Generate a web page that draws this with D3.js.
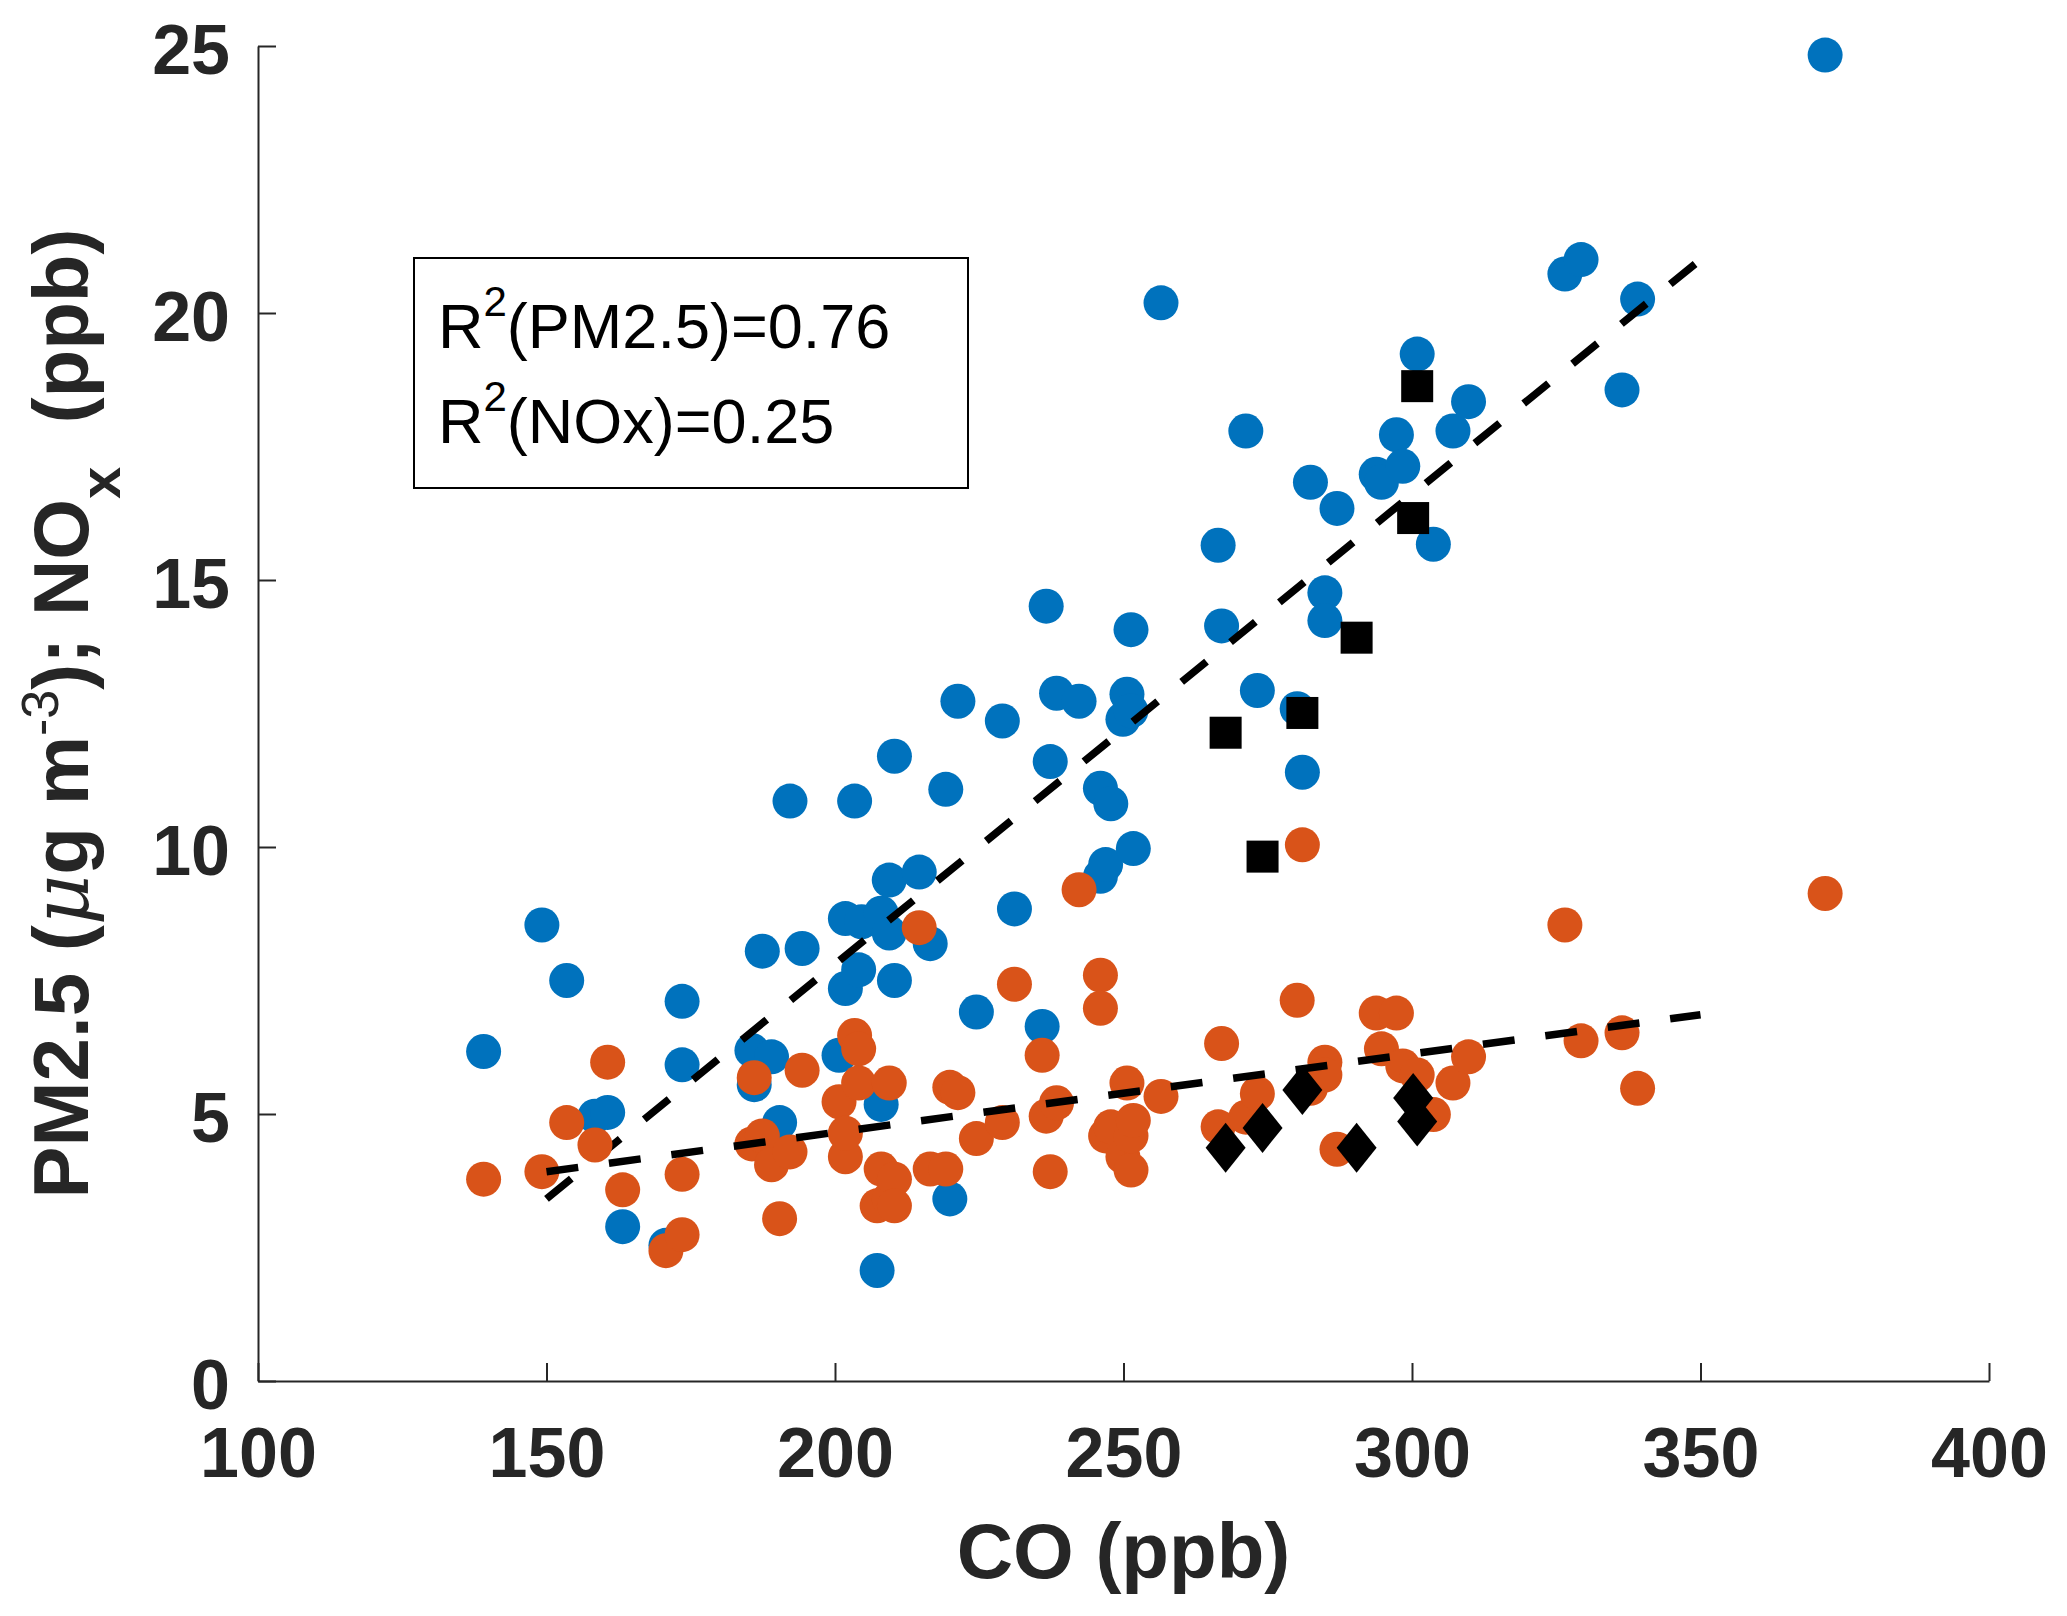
<!DOCTYPE html>
<html>
<head>
<meta charset="utf-8">
<script src="https://cdn.jsdelivr.net/npm/d3@7"></script>
<style>
  body { margin: 0; background: #fff; }
  svg text { white-space: pre; }
</style>
</head>
<body>
<div id="chart"></div>
<script>
// PM2.5 samples (blue) : CO (ppb) and PM2.5 (ug m-3)
const coPM = [139.1, 149.2, 153.5, 158.4, 160.6, 163.2, 170.7, 173.5, 173.5, 185.6,
  186.0, 187.4, 189.0, 190.4, 192.2, 194.3, 200.7, 201.8, 201.8, 203.4,
  204.1, 204.6, 208.0, 207.3, 208.0, 209.4, 209.4, 210.3, 210.3, 214.6,
  216.5, 219.2, 219.9, 221.3, 224.5, 229.0, 231.1, 235.9, 236.6, 237.3,
  238.4, 242.3, 246.0, 246.0, 246.9, 247.8, 249.9, 250.6, 251.3, 251.3,
  251.7, 256.5, 266.4, 267.0, 271.2, 273.2, 280.1, 281.0, 282.4, 284.9,
  284.9, 287.0, 293.8, 294.7, 297.3, 298.4, 300.9, 303.7, 307.1, 309.8,
  326.5, 329.3, 336.4, 339.1, 371.6];
const pm25 = [6.17, 8.54, 7.50, 4.96, 5.03, 2.89, 2.54, 7.11, 5.92, 6.19,
  5.55, 8.05, 6.07, 4.84, 10.86, 8.10, 6.10, 7.35, 8.66, 10.86,
  7.70, 8.60, 8.76, 2.07, 5.18, 9.38, 8.39, 7.50, 11.70, 9.53,
  8.19, 11.08, 3.41, 12.73, 6.91, 12.36, 8.84, 6.64, 14.51, 11.60,
  12.88, 12.73, 11.10, 9.45, 9.67, 10.81, 12.39, 12.86, 14.07, 12.55,
  9.97, 20.19, 15.65, 14.14, 17.79, 12.93, 12.59, 11.40, 16.83, 14.76,
  14.24, 16.34, 16.98, 16.83, 17.72, 17.13, 19.23, 15.67, 17.79, 18.34,
  20.73, 21.00, 18.56, 20.26, 24.83];

// NOx samples (orange) : CO (ppb) and NOx (ppb)
const coNOx = [139.1, 149.2, 153.5, 158.4, 160.6, 163.2, 170.7, 173.5, 173.5, 185.6,
  186.0, 187.4, 189.0, 190.4, 192.2, 194.3, 200.7, 201.8, 201.8, 203.4,
  204.1, 204.1, 208.0, 207.3, 209.4, 209.4, 210.3, 210.3, 214.6, 216.5,
  219.2, 219.9, 221.3, 224.5, 229.0, 231.1, 235.9, 236.6, 237.3, 238.4,
  242.3, 246.0, 246.0, 246.9, 247.8, 249.9, 250.6, 251.3, 251.3, 251.7,
  256.5, 266.4, 267.0, 271.2, 273.2, 280.1, 281.0, 282.4, 284.9, 284.9,
  287.0, 293.8, 294.7, 297.3, 298.4, 300.9, 303.7, 307.1, 309.8, 326.5,
  329.3, 336.4, 339.1, 371.6];
const nox = [3.78, 3.92, 4.84, 4.42, 5.97, 3.58, 2.44, 2.74, 3.87, 4.44,
  5.68, 4.59, 4.05, 3.04, 4.29, 5.82, 5.23, 4.20, 4.64, 6.47,
  6.22, 5.58, 3.97, 3.28, 5.58, 3.41, 3.78, 3.28, 8.49, 3.97,
  3.97, 5.50, 5.40, 4.54, 4.84, 7.43, 6.10, 4.96, 3.92, 5.21,
  9.20, 7.60, 6.98, 4.59, 4.76, 4.20, 5.58, 3.95, 4.59, 4.88,
  5.33, 4.76, 6.32, 4.94, 5.38, 7.13, 10.04, 5.48, 5.97, 5.73,
  4.34, 6.89, 6.22, 6.89, 5.90, 5.73, 4.99, 5.58, 6.07, 8.54,
  6.37, 6.52, 5.48, 9.13];

// black markers: squares = PM2.5, diamonds = NOx
const coBlack = [267.7, 274.1, 281.0, 290.4, 300.2, 300.9];
const pmBlack = [12.14, 9.82, 12.51, 13.92, 16.16, 18.63];
const noxBlack = [4.37, 4.74, 5.45, 4.37, 5.30, 4.86];

// regression line end points
const fitCO = [150, 350];
const pmFit = [3.41, 21.0];
const noxFit = [3.92, 6.86];

const xTicks = [100, 150, 200, 250, 300, 350, 400];
const yTicks = [0, 5, 10, 15, 20, 25];
const r2Labels = [["(PM2.5)=0.76"], ["(NOx)=0.25"]];

const W = 2067, H = 1616;
const blue = "#0072BD", orange = "#D95319", ink = "#262626";
const fontMain = "'Liberation Sans', Arial, Helvetica, sans-serif";

const svg = d3.select("#chart").append("svg")
  .attr("width", W).attr("height", H);

const x = d3.scaleLinear().domain([100, 400]).range([258, 1989]);
const y = d3.scaleLinear().domain([0, 25]).range([1381, 46]);

//AXES
const xAxis = d3.axisBottom(x).tickValues(xTicks).tickSizeInner(-18).tickSizeOuter(0).tickPadding(46);
const yAxis = d3.axisLeft(y).tickValues(yTicks).tickSizeInner(-18).tickSizeOuter(0).tickPadding(28);

const gx = svg.append("g").attr("transform", `translate(0,${y(0)})`).call(xAxis);
const gy = svg.append("g").attr("transform", `translate(${x(100)},0)`).call(yAxis);

[gx, gy].forEach(g => {
  g.select(".domain").attr("stroke", ink).attr("stroke-width", 2);
  g.selectAll(".tick line").attr("stroke", ink).attr("stroke-width", 2);
  g.selectAll(".tick text")
    .attr("fill", ink)
    .attr("font-family", fontMain)
    .attr("font-weight", "bold")
    .attr("font-size", 70);
});
gy.selectAll(".tick text").attr("dy", "0.39em");

//POINTS
const plot = svg.append("g");

plot.append("g").selectAll("circle")
  .data(d3.zip(coPM, pm25))
  .enter().append("circle")
  .attr("cx", d => x(d[0]))
  .attr("cy", d => y(d[1]))
  .attr("r", 17.5)
  .attr("fill", blue);

const line = d3.line().x(d => x(d[0])).y(d => y(d[1]));

plot.append("path")
  .attr("d", line(d3.zip(fitCO, pmFit)))
  .attr("fill", "none").attr("stroke", "#000")
  .attr("stroke-width", 7.5).attr("stroke-dasharray", "32,31");

plot.append("g").selectAll("circle")
  .data(d3.zip(coNOx, nox))
  .enter().append("circle")
  .attr("cx", d => x(d[0]))
  .attr("cy", d => y(d[1]))
  .attr("r", 17.5)
  .attr("fill", orange);

plot.append("path")
  .attr("d", line(d3.zip(fitCO, noxFit)))
  .attr("fill", "none").attr("stroke", "#000")
  .attr("stroke-width", 7.5).attr("stroke-dasharray", "32,31");

plot.append("g").selectAll("rect")
  .data(d3.zip(coBlack, pmBlack))
  .enter().append("rect")
  .attr("x", d => x(d[0]) - 16)
  .attr("y", d => y(d[1]) - 16)
  .attr("width", 32).attr("height", 32)
  .attr("fill", "#000");

plot.append("g").selectAll("path")
  .data(d3.zip(coBlack, noxBlack))
  .enter().append("path")
  .attr("d", d => {
    const cx = x(d[0]), cy = y(d[1]);
    return `M${cx},${cy - 25}L${cx + 20},${cy}L${cx},${cy + 25}L${cx - 20},${cy}Z`;
  })
  .attr("fill", "#000");

//R2 BOX
svg.append("rect")
  .attr("x", 414).attr("y", 258)
  .attr("width", 554).attr("height", 230)
  .attr("fill", "#fff").attr("stroke", "#000").attr("stroke-width", 2);

r2Labels.forEach((lab, i) => {
  const t = svg.append("text")
    .attr("x", 438).attr("y", 348 + i * 95)
    .attr("font-family", fontMain).attr("font-size", 63).attr("fill", "#000");
  t.append("tspan").text("R");
  t.append("tspan").attr("font-size", 42).attr("dy", -32).text("2");
  t.append("tspan").attr("dy", 32).text(lab[0]);
});

//AXIS LABELS
svg.append("text")
  .attr("x", (x(100) + x(400)) / 2).attr("y", 1578)
  .attr("text-anchor", "middle")
  .attr("font-family", fontMain).attr("font-weight", "bold")
  .attr("font-size", 78).attr("fill", ink)
  .text("CO (ppb)");

const yl = svg.append("text")
  .attr("transform", `translate(88,${(y(0) + y(25)) / 2}) rotate(-90)`)
  .attr("text-anchor", "middle")
  .attr("font-family", fontMain).attr("font-weight", "bold")
  .attr("font-size", 78).attr("fill", ink);
yl.append("tspan").text("PM2.5 (");
yl.append("tspan").attr("font-family", "'DejaVu Serif', serif").attr("font-style", "italic")
  .attr("font-weight", "normal").text("\u03bc");
yl.append("tspan").text("g m");
yl.append("tspan").attr("font-size", 52).attr("font-weight", "normal").attr("dy", -30).text("-3");
yl.append("tspan").attr("dy", 30).text("); NO");
yl.append("tspan").attr("font-size", 58).attr("dy", 32).text("x");
yl.append("tspan").attr("dy", -32).text("  (ppb)");
</script>
</body>
</html>
